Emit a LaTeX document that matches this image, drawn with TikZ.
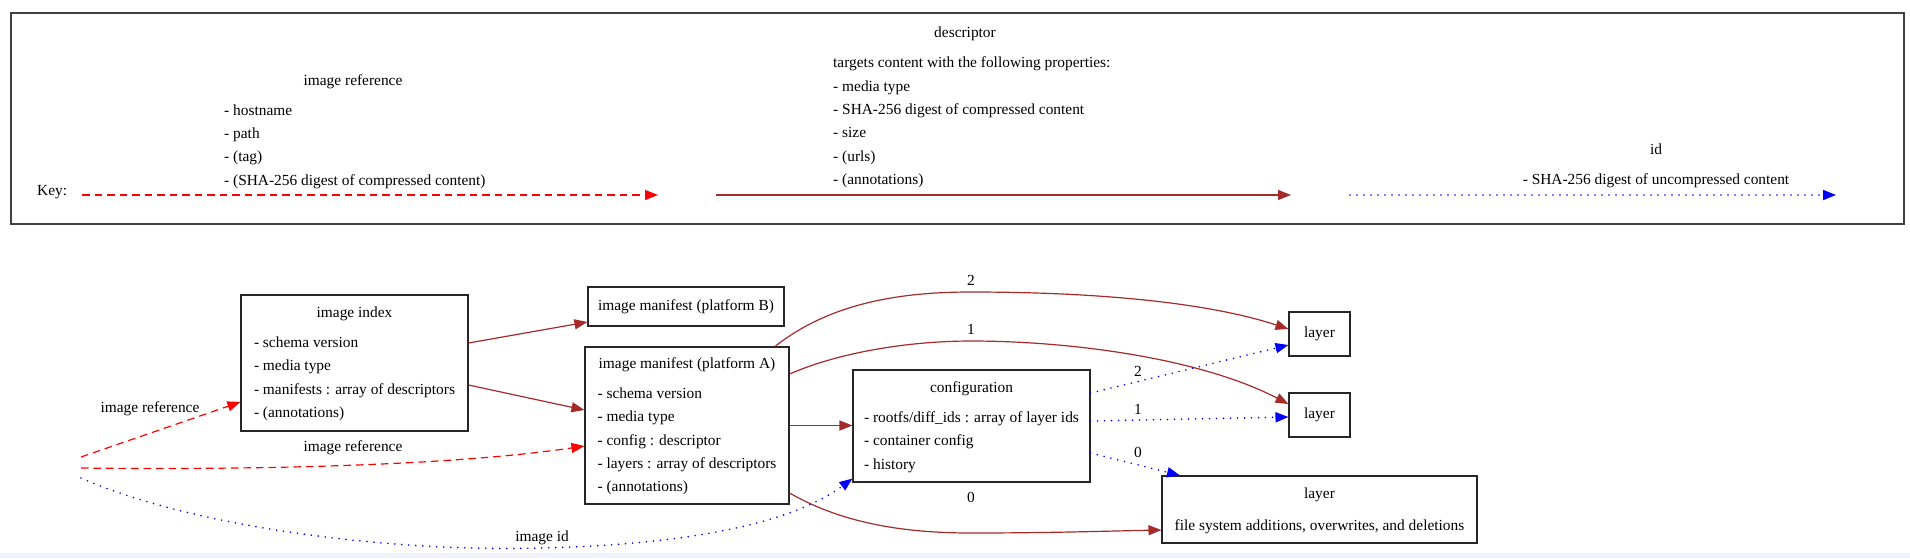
\documentclass[tikz,border=0pt]{standalone}
\usepackage{fontspec}
\setmainfont{Liberation Serif}
\usetikzlibrary{arrows.meta}
\definecolor{edgebrown}{HTML}{A52A2A}
\definecolor{bandblue}{HTML}{EEF2FA}
\newcommand{\boxtext}[3]{\begin{tabular}{@{}l@{}}\multicolumn{1}{@{}c@{}}{#1}\\[#2] #3\end{tabular}}
\newcommand{\plainlist}[1]{\begin{tabular}{@{}l@{}}#1\end{tabular}}
\begin{document}
\begin{tikzpicture}[x=1pt,y=-1pt,
  every node/.style={font=\fontsize{15.4}{23.4}\selectfont, inner sep=0pt},
  box/.style={draw=black!85, line width=1.1pt},
  plain/.style={text height=10.5pt, text depth=3.5pt},
  tip/.style={-{Triangle[length=13pt,width=10pt]}},
  refedge/.style={red, line width=1.2pt, dash pattern=on 7.5pt off 5pt, tip},
  descedge/.style={edgebrown, line width=1.2pt, tip},
  idedge/.style={blue, line width=1.8pt, dash pattern=on 0pt off 7pt, line cap=round, tip}
]
\useasboundingbox (0,0) rectangle (1910,558);
\fill[bandblue] (0,553) rectangle (1910,558);

% ---------- key ----------
\node[draw=black!75, line width=1.2pt, minimum width=1893pt, minimum height=211pt] (key) at (957.5,118.5) {};
\node[plain, anchor=west] (keylbl) at (37,192) {Key:};
\node[plain] (reftitle) at (353,82) {image reference};
\node[anchor=west] (reflist) at (224,145.5) {\plainlist{- hostname\\ - path\\ - (tag)\\ - (SHA-256 digest of compressed content)}};
\node[plain] (desctitle) at (965,34) {descriptor};
\node[anchor=west] (desclist) at (833,121.5) {\plainlist{targets content with the following properties:\\ - media type\\ - SHA-256 digest of compressed content\\ - size\\ - (urls)\\ - (annotations)}};
\node[plain] (idtitle) at (1656,151) {id};
\node[plain] (idlist) at (1656,181) {- SHA-256 digest of uncompressed content};
\coordinate (ka1) at (82,195);
\coordinate (ka2) at (658,195);
\coordinate (kb1) at (716,195);
\coordinate (kb2) at (1291,195);
\coordinate (kc1) at (1350,195);
\coordinate (kc2) at (1836,195);
\draw[refedge] (ka1) -- (ka2);
\draw[descedge] (kb1) -- (kb2);
\draw[idedge] (kc1) -- (kc2);

% ---------- graph nodes ----------
\node[box, minimum width=227pt, minimum height=136pt] (index) at (354.5,363)
  {\boxtext{image index}{6.6pt}{- schema version\\ - media type\\ - manifests : array of descriptors\\ - (annotations)}};
\node[box, minimum width=196pt, minimum height=39pt] (platB) at (686,306.5) {image manifest (platform B)};
\node[box, minimum width=204pt, minimum height=157pt] (platA) at (687,425.5)
  {\boxtext{image manifest (platform A)}{6.6pt}{- schema version\\ - media type\\ - config : descriptor\\ - layers : array of descriptors\\ - (annotations)}};
\node[box, minimum width=237pt, minimum height=112pt] (config) at (971.5,426)
  {\boxtext{configuration}{6.6pt}{- rootfs/diff\_ids : array of layer ids\\ - container config\\ - history}};
\node[box, minimum width=61pt, minimum height=44pt] (layer2) at (1319.5,334) {layer};
\node[box, minimum width=61pt, minimum height=44pt] (layer1) at (1319.5,415) {layer};
\node[box, minimum width=315pt, minimum height=67pt] (layer0) at (1319.5,509.5)
  {\boxtext{layer}{8.6pt}{file system additions, overwrites, and deletions}};
\coordinate (src) at (81,468);

% ---------- graph edges ----------
\draw[descedge] ([yshift=20pt]index.east) -- ([yshift=-15.5pt]platB.west);
\draw[descedge] ([yshift=-22pt]index.east) -- ([yshift=15.5pt]platA.west);
\draw[descedge] (platA.east) -- (platA.east -| config.west);
\draw[descedge] ([xshift=88pt]platA.north) .. controls (830,303) and (900,292) .. (971,292)
  .. controls (1080,292) and (1200,300) .. ([yshift=5pt]layer2.west);
\draw[descedge] ([yshift=51.5pt]platA.east) .. controls (840,352) and (910,341) .. (971,341)
  .. controls (1070,341) and (1200,358) .. ([yshift=11pt]layer1.west);
\draw[descedge] ([yshift=-67.5pt]platA.east) .. controls (840,522) and (900,533) .. (971,533)
  .. controls (1050,533) and (1110,531) .. ([yshift=-20.5pt]layer0.west);
\draw[idedge] ([yshift=33pt]config.east) -- ([yshift=-11pt]layer2.west);
\draw[idedge] ([yshift=5pt]config.east) -- ([yshift=-2pt]layer1.west);
\draw[idedge] ([yshift=-27pt]config.east) -- ([xshift=-139.5pt]layer0.north);
\draw[refedge] ([yshift=11pt]src) -- ([yshift=-39pt]index.west);
\draw[refedge] (src) .. controls (250,470) and (450,466) .. ([yshift=-20.5pt]platA.west);
\draw[idedge] ([yshift=-10pt]src) .. controls (200,530) and (400,552) .. (540,548)
  .. controls (680,545) and (790,525) .. ([yshift=4pt]config.south west);

% ---------- edge labels ----------
\node[plain] (lref1) at (150,409) {image reference};
\node[plain] (lref2) at (353,448) {image reference};
\node[plain] (lid) at (542,538) {image id};
\node[plain] (la2) at (971,282) {2};
\node[plain] (la1) at (971,331) {1};
\node[plain] (la0) at (971,499) {0};
\node[plain] (lc2) at (1138,373) {2};
\node[plain] (lc1) at (1138,411) {1};
\node[plain] (lc0) at (1138,454) {0};
\end{tikzpicture}
\end{document}
